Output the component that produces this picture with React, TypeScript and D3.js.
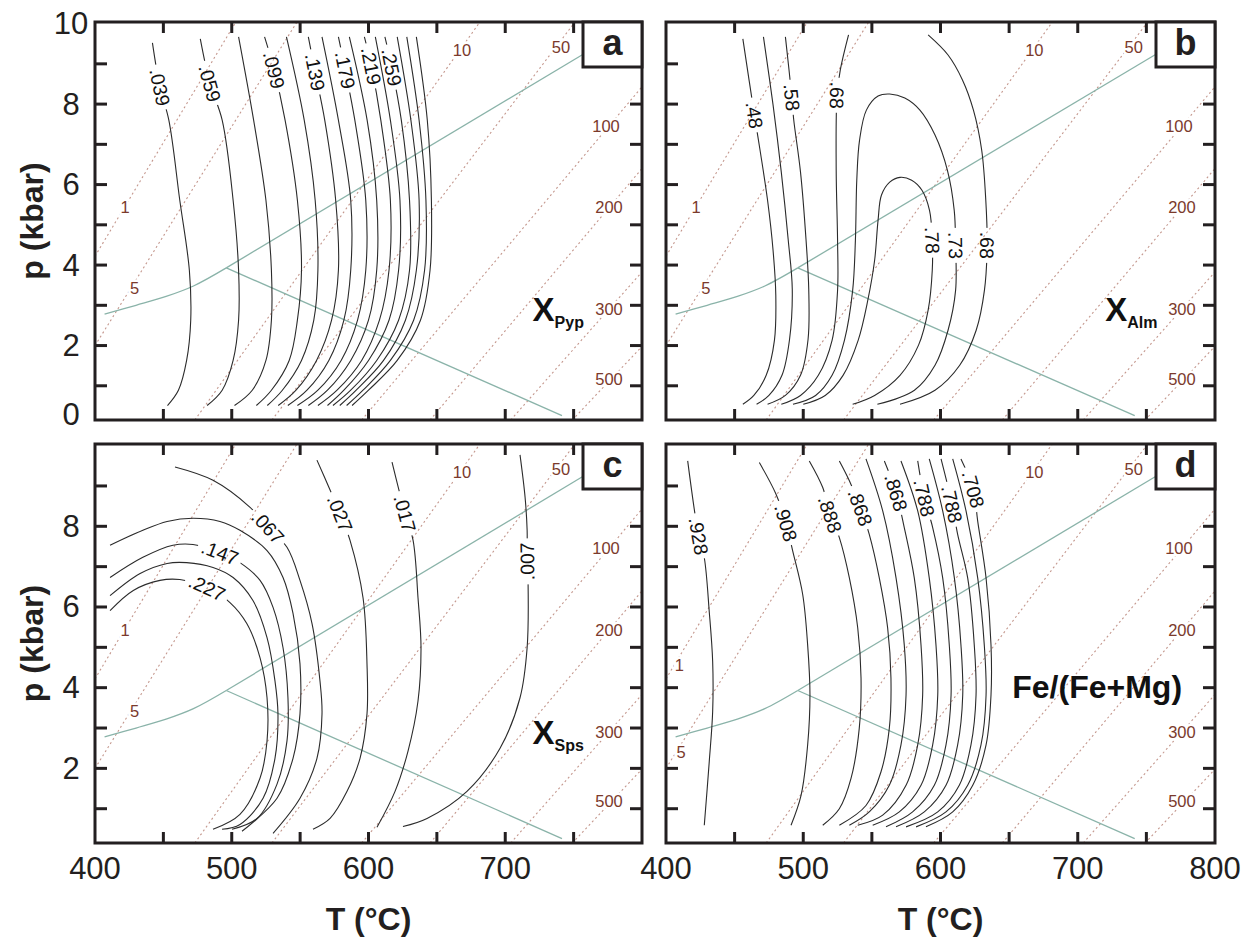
import * as d3 from "d3";

type Pt = [number, number];
// [curve index, vertex index carrying the label, text, read upwards?]
type Lab = [number, number, string, boolean?];

const T_RANGE: Pt = [400, 800];
const P_RANGE: Pt = [0.15, 10.04];
const T_TICKS = [450, 500, 550, 600, 650, 700, 750];
const P_TICKS = [1, 2, 3, 4, 5, 6, 7, 8, 9];
const T_LABELS_C = [400, 500, 600, 700];
const T_LABELS_D = [400, 500, 600, 700, 800];
const P_LABELS_A = [0, 2, 4, 6, 8, 10];
const P_LABELS_C = [2, 4, 6, 8];

// Al2SiO5 phase boundaries (T degC, p kbar)
const kyAnd: Pt[] = [[407, 2.78], [430, 3.0], [452, 3.22], [472, 3.48], [496, 3.93]];
const kySil: Pt[] = [[496, 3.93], [757, 9.24]];
const andSil: Pt[] = [[496, 3.93], [741.5, 0.26]];

// dotted reference lines
const isoNames = ["1", "5", "10", "50", "100", "200", "300", "500"];
const isoLines: Pt[][] = [
  [[400, 4.22], [503, 10.04]],
  [[400, 2.0], [547.7, 10.04]],
  [[473, 0.15], [681.5, 10.04]],
  [[529.4, 0.15], [751, 10.04]],
  [[595, 0.15], [800, 8.43]],
  [[645, 0.15], [800, 6.4]],
  [[704, 0.15], [800, 3.83]],
  [[749, 0.15], [800, 1.98]],
];
const isoLabelAt: Pt[] = [
  [422, 5.44], [429, 3.42], [668.4, 9.34], [740.8, 9.42],
  [773.7, 7.45], [775.9, 5.44], [775.9, 2.9], [775.9, 1.18],
];
const isoLabelAtD: Pt[] = [
  [409.7, 4.57], [411, 2.41], [668.4, 9.34], [740.8, 9.42],
  [773.7, 7.45], [775.9, 5.44], [775.9, 2.9], [775.9, 1.18],
];

// (a) X Pyp
const pypCurves: Pt[][] = [
  [[442, 9.52], [447.5, 8.42], [454, 7.6], [462, 5.61], [469, 3.87], [470, 2.63], [467, 1.63], [461, 0.89], [453, 0.51]],
  [[477, 9.62], [484, 8.52], [493, 7.6], [501, 5.61], [505, 3.87], [505, 2.63], [501, 1.63], [493, 0.89], [482, 0.51]],
  [[505, 9.67], [516, 7.6], [525, 5.61], [529, 3.87], [529, 2.63], [525, 1.63], [515, 0.89], [502, 0.51]],
  [[524, 9.67], [531, 8.85], [539, 7.6], [548, 5.61], [551, 3.87], [548, 2.63], [542, 1.63], [529, 0.89], [518, 0.51]],
  [[540, 9.67], [553, 7.6], [561, 5.61], [563, 3.87], [560, 2.63], [551, 1.63], [537, 0.89], [526, 0.51]],
  [[556, 9.67], [561, 8.8], [568, 7.6], [576, 5.61], [578, 3.87], [573, 2.63], [562, 1.63], [547, 0.89], [534, 0.51]],
  [[566, 9.67], [578, 7.6], [587, 5.61], [587, 3.87], [582, 2.63], [571, 1.63], [555, 0.89], [541, 0.51]],
  [[578, 9.67], [583, 8.85], [590, 7.6], [598, 5.61], [598, 3.87], [592, 2.63], [580, 1.63], [563, 0.89], [548, 0.51]],
  [[586, 9.67], [599, 7.6], [606, 5.61], [606, 3.87], [600, 2.63], [587, 1.63], [570, 0.89], [556, 0.51]],
  [[597, 9.67], [602, 8.95], [609, 7.6], [616, 5.61], [615, 3.87], [608, 2.63], [595, 1.63], [577, 0.89], [563, 0.51]],
  [[605, 9.67], [616, 7.6], [623, 5.61], [622, 3.87], [615, 2.63], [600, 1.63], [582, 0.89], [570, 0.51]],
  [[612, 9.67], [617, 8.92], [624, 7.6], [630, 5.61], [630, 3.87], [622, 2.63], [606, 1.63], [587, 0.89], [574, 0.51]],
  [[621, 9.67], [631, 7.6], [637, 5.61], [635, 3.87], [627, 2.63], [611, 1.63], [591, 0.89], [579, 0.51]],
  [[628, 9.67], [637, 7.6], [642, 5.61], [641, 3.87], [633, 2.63], [616, 1.63], [596, 0.89], [584, 0.51]],
  [[635, 9.67], [643, 7.6], [646, 5.61], [645, 3.87], [638, 2.63], [621, 1.63], [600, 0.89], [588, 0.51]],
];
const pypLabels: Lab[] = [
  [0, 1, ".039"], [1, 1, ".059"], [3, 1, ".099"], [5, 1, ".139"],
  [7, 1, ".179"], [9, 1, ".219"], [11, 1, ".259"],
];

// (b) X Alm
const almCurves: Pt[][] = [
  [[456, 9.62], [464.4, 7.73], [468.5, 6.86], [474, 5.61], [478, 4.37], [480, 3.25], [479, 2.13], [473, 1.26], [464, 0.76], [456, 0.54]],
  [[471, 9.67], [478, 7.98], [484, 6.31], [489, 4.64], [492, 3.4], [490, 2.15], [484.5, 1.26], [475, 0.76], [466, 0.54]],
  [[487, 9.67], [491.7, 8.17], [493, 7.63], [498, 6.31], [502, 4.64], [504, 3.4], [503.5, 2.15], [498, 1.26], [487, 0.76], [474, 0.54]],
  [[533, 9.72], [527, 8.85], [524.6, 8.22], [524, 6.36], [525, 4.62], [525, 3.37], [521, 2.13], [511, 1.26], [498, 0.76], [484, 0.54]],
  [[492.5, 0.54], [509, 0.76], [521, 1.26], [530, 2.13], [536, 3.37], [538, 4.62], [539, 6.11], [541, 7.1], [546, 7.85], [554.5, 8.2], [563, 8.25], [574, 8.15], [585, 7.85], [596, 7.23], [605, 6.36], [610, 5.36], [611, 4.49], [611, 3.37], [605.5, 2.38], [596, 1.51], [581, 0.89], [554, 0.54]],
  [[500, 0.54], [516, 0.76], [529, 1.26], [540, 2.13], [547, 3.12], [552, 4.12], [554.5, 5.11], [557, 5.74], [563, 6.06], [570.5, 6.18], [579, 6.11], [586.5, 5.86], [592, 5.36], [594, 4.62], [594, 3.87], [591, 2.88], [584, 2.01], [570.5, 1.26], [552, 0.76], [536, 0.54]],
  [[591, 9.72], [605.5, 9.22], [616, 8.6], [624, 7.85], [630, 6.86], [633, 5.61], [634, 4.49], [632, 3.37], [626, 2.38], [614, 1.51], [596, 0.89], [570.5, 0.54]],
];
const almLabels: Lab[] = [
  [0, 1, ".48"], [2, 1, ".58"], [3, 2, ".68"], [4, 16, ".73"], [5, 13, ".78"], [6, 6, ".68"],
];

// (c) X Sps
const spsCurves: Pt[][] = [
  [[411, 5.91], [428, 6.41], [447.5, 6.66], [462, 6.68], [482, 6.48], [498.7, 6.11], [511, 5.59], [520.7, 4.74], [525.8, 3.75], [525.8, 2.68], [520.7, 1.76], [506, 0.86], [486.3, 0.49]],
  [[411, 6.28], [433, 6.83], [452.7, 7.08], [467, 7.1], [486.3, 6.98], [501, 6.73], [515.5, 6.16], [525.8, 5.24], [531.6, 4.17], [533.8, 3.35], [531.6, 2.25], [522.9, 1.26], [506, 0.61], [492.9, 0.49]],
  [[411, 6.73], [435, 7.23], [457, 7.53], [471.7, 7.55], [491.4, 7.35], [506, 7.1], [520.7, 6.66], [530.2, 5.99], [537.5, 4.99], [541.1, 3.75], [540.4, 2.68], [533.1, 1.61], [518.5, 0.76], [500.2, 0.49]],
  [[411, 7.53], [435, 7.9], [452.7, 8.12], [471.7, 8.2], [491.4, 8.12], [506, 7.9], [525.8, 7.4], [537.5, 6.73], [544.8, 5.84], [549.9, 4.59], [549.9, 3.35], [544.8, 2.25], [533.1, 1.26], [507.5, 0.44]],
  [[458.5, 9.47], [486.3, 9.14], [513.4, 8.47], [526.5, 7.98], [540.4, 7.48], [549.9, 6.66], [558.7, 5.59], [564.5, 4.17], [566, 3.35], [562.3, 2.25], [549.9, 1.26], [530.2, 0.39]],
  [[562.3, 9.64], [571.9, 8.9], [579.2, 8.32], [586.5, 7.65], [596, 6.23], [598.9, 4.59], [598.9, 3.35], [593.8, 2.25], [584.3, 1.43], [571.9, 0.76], [559.4, 0.49]],
  [[617.2, 9.59], [626.7, 8.32], [632.6, 7.65], [636.2, 6.23], [638.4, 4.99], [636.2, 3.67], [628.9, 2.43], [619.4, 1.43], [606.2, 0.54]],
  [[710.8, 9.77], [714.5, 8.72], [716, 7.9], [716, 7.13], [716.7, 6.58], [716, 4.99], [710.8, 3.75], [696.2, 2.5], [672, 1.43], [642.8, 0.76], [625.2, 0.56]],
];
const spsLabels: Lab[] = [
  [0, 4, ".227"], [2, 4, ".147"], [4, 3, ".067"], [5, 2, ".027"], [6, 1, ".017"], [7, 3, ".007", true],
];

// (d) Fe/(Fe+Mg)
const femCurves: Pt[][] = [
  [[415.8, 9.62], [423.8, 7.76], [427.9, 7.22], [431.5, 5.89], [434, 4.65], [434, 3.41], [431.5, 2.16], [427.9, 0.59]],
  [[468, 9.58], [480.1, 8.8], [487.4, 8.09], [492.3, 7.39], [499.6, 6.31], [503.2, 5.06], [504.9, 3.82], [503.2, 2.58], [498.4, 1.33], [491.1, 0.59]],
  [[504.4, 9.62], [514.2, 8.96], [519.5, 8.3], [526.3, 7.72], [533.6, 6.72], [539.7, 5.48], [542.1, 4.24], [540.8, 2.99], [534.8, 1.75], [526.3, 1.0], [514.2, 0.59]],
  [[526.3, 9.62], [533.6, 9.13], [541.6, 8.47], [548.1, 7.8], [555.4, 6.72], [561.5, 5.48], [563.9, 4.24], [562.7, 2.99], [556.6, 1.91], [545.7, 1.08], [526.3, 0.59]],
  [[545.7, 9.67], [557.9, 8.38], [567.6, 6.72], [573.6, 5.06], [574.9, 3.82], [571.2, 2.58], [562.7, 1.58], [548.1, 0.92], [533.6, 0.59]],
  [[559.1, 9.62], [567.6, 8.84], [573.6, 7.97], [580.9, 6.72], [585.8, 5.06], [587, 3.82], [583.4, 2.58], [574.9, 1.58], [557.9, 0.84], [539.7, 0.59]],
  [[571.2, 9.62], [583.4, 8.38], [591.8, 6.72], [596.7, 5.06], [598, 3.82], [594.3, 2.58], [585.8, 1.58], [570, 0.92], [550.6, 0.59]],
  [[583.4, 9.62], [588.2, 8.71], [594.3, 7.97], [601.6, 6.72], [606.4, 5.06], [607.7, 3.82], [604, 2.58], [595.5, 1.58], [579.7, 0.92], [560.3, 0.55]],
  [[591.8, 9.67], [601.6, 8.38], [610.1, 6.72], [614.9, 5.06], [616.2, 3.82], [612.5, 2.58], [604, 1.58], [588.2, 0.92], [567.6, 0.55]],
  [[600.4, 9.67], [608.4, 8.55], [612.5, 7.8], [619.8, 6.72], [624.6, 5.06], [625.9, 3.82], [622.2, 2.58], [613.7, 1.58], [598, 0.92], [574.9, 0.55]],
  [[608.9, 9.67], [618.6, 8.38], [627.1, 6.72], [631.9, 5.06], [633.2, 3.82], [629.5, 2.58], [619.8, 1.58], [604, 0.92], [582.2, 0.55]],
  [[614.9, 9.67], [623.9, 8.92], [627.1, 8.13], [633.2, 6.72], [636.8, 5.06], [636.8, 3.82], [633.2, 2.58], [623.5, 1.58], [608.9, 0.92], [589.4, 0.55]],
];
const femLabels: Lab[] = [
  [0, 1, ".928"], [1, 2, ".908"], [2, 2, ".888"], [3, 2, ".868"],
  [5, 1, ".868"], [7, 1, ".788"], [9, 1, ".788"], [11, 1, ".708"],
];

const FONT = "'Liberation Sans', Arial, Helvetica, sans-serif";
const INK = "#231f20";
const CONTOUR = "#2b2b2b";
const DOT = "#c4978d";
const DOT_TEXT = "#7b3a2c";
const GREEN = "#8ab3a9";

const textWidth = (s: string, fs: number) =>
  s.split("").reduce((w, ch) => w + (ch === "." ? 0.278 : 0.556), 0) * fs;

type PanelProps = {
  id: string;
  left: number;
  right: number;
  top: number;
  bottom: number;
  curves: Pt[][];
  labels: Lab[];
  letter: string;
  isoAt: Pt[];
  yLabels: number[];
  xLabels: number[];
  note: (x: d3.ScaleLinear<number, number>, y: d3.ScaleLinear<number, number>) => JSX.Element;
};

function Panel(props: PanelProps) {
  const { id, left, right, top, bottom, curves, labels, letter, isoAt, yLabels, xLabels, note } = props;
  const x = d3.scaleLinear().domain(T_RANGE).range([left, right]);
  const y = d3.scaleLinear().domain(P_RANGE).range([bottom, top]);
  const line = d3
    .line<Pt>()
    .x((d) => x(d[0]))
    .y((d) => y(d[1]));
  const smooth = d3
    .line<Pt>()
    .x((d) => x(d[0]))
    .y((d) => y(d[1]))
    .curve(d3.curveCatmullRom.alpha(0.5));

  const labFs = 19.5;
  const placed = labels.map(([ci, vi, txt, flip]) => {
    const pts = curves[ci];
    const a = pts[vi - 1];
    const b = pts[vi + 1];
    const c = pts[vi];
    let ang = (Math.atan2(y(b[1]) - y(a[1]), x(b[0]) - x(a[0])) * 180) / Math.PI;
    if (flip) ang += 180;
    return { ci, txt, sx: x(c[0]), sy: y(c[1]), ang, w: textWidth(txt, labFs) + 8 };
  });

  const tick = 11;

  return (
    <g>
      <defs>
        <clipPath id={`clip-${id}`}>
          <rect x={left} y={top} width={right - left} height={bottom - top} />
        </clipPath>
        {placed.map((p) => (
          <mask id={`m-${id}-${p.ci}`} key={p.ci} maskUnits="userSpaceOnUse" x={0} y={0} width={1253} height={938}>
            <rect x={0} y={0} width={1253} height={938} fill="white" />
            <rect
              x={-p.w / 2}
              y={-8}
              width={p.w}
              height={16}
              fill="black"
              transform={`translate(${p.sx},${p.sy}) rotate(${p.ang})`}
            />
          </mask>
        ))}
      </defs>

      <g clipPath={`url(#clip-${id})`}>
        {/* dotted reference lines */}
        {isoLines.map((l, i) => (
          <path key={i} d={line(l) ?? ""} fill="none" stroke={DOT} strokeWidth={1.1} strokeDasharray="2 2.8" />
        ))}
        {/* Al2SiO5 boundaries */}
        {[kyAnd, kySil, andSil].map((l, i) => (
          <path key={i} d={smooth(l) ?? ""} fill="none" stroke={GREEN} strokeWidth={1.3} />
        ))}
        {isoNames.map((n, i) => (
          <text
            key={n}
            x={x(isoAt[i][0])}
            y={y(isoAt[i][1])}
            textAnchor="middle"
            dominantBaseline="central"
            fontFamily={FONT}
            fontSize={16.5}
            fill={DOT_TEXT}
            stroke="white"
            strokeWidth={5}
            paintOrder="stroke"
          >
            {n}
          </text>
        ))}
        {/* contours */}
        {curves.map((c, i) => {
          const lab = placed.find((p) => p.ci === i);
          return (
            <path
              key={i}
              d={smooth(c) ?? ""}
              fill="none"
              stroke={CONTOUR}
              strokeWidth={1.1}
              mask={lab ? `url(#m-${id}-${i})` : undefined}
            />
          );
        })}
        {placed.map((p, i) => (
          <text
            key={i}
            transform={`translate(${p.sx},${p.sy}) rotate(${p.ang})`}
            textAnchor="middle"
            dominantBaseline="central"
            fontFamily={FONT}
            fontSize={labFs}
            fill="#111"
          >
            {p.txt}
          </text>
        ))}
      </g>

      {note(x, y)}

      {/* ticks */}
      {T_TICKS.map((t) => (
        <g key={`t${t}`} stroke={INK} strokeWidth={3}>
          <line x1={x(t)} x2={x(t)} y1={top} y2={top + tick} />
          <line x1={x(t)} x2={x(t)} y1={bottom} y2={bottom - tick} />
        </g>
      ))}
      {P_TICKS.map((p) => (
        <g key={`p${p}`} stroke={INK} strokeWidth={3}>
          <line x1={left} x2={left + tick + 1} y1={y(p)} y2={y(p)} />
          <line x1={right} x2={right - tick - 1} y1={y(p)} y2={y(p)} />
        </g>
      ))}
      <rect x={left} y={top} width={right - left} height={bottom - top} fill="none" stroke={INK} strokeWidth={3} />

      {/* panel letter box */}
      <rect x={right - 59} y={top} width={59} height={45} fill="white" stroke={INK} strokeWidth={3} />
      <text
        x={right - 29.5}
        y={top + 33}
        textAnchor="middle"
        fontFamily={FONT}
        fontWeight="bold"
        fontSize={36}
        fill={INK}
      >
        {letter}
      </text>

      {/* tick labels */}
      {yLabels.map((v) => (
        <text
          key={`yl${v}`}
          x={left - 24}
          y={v === 0 ? y(P_RANGE[0]) - 6 : y(v)}
          textAnchor="middle"
          dominantBaseline="central"
          fontFamily={FONT}
          fontSize={31}
          fill={INK}
        >
          {v}
        </text>
      ))}
      {xLabels.map((v) => (
        <text
          key={`xl${v}`}
          x={x(v)}
          y={bottom + 36}
          textAnchor="middle"
          fontFamily={FONT}
          fontSize={31}
          fill={INK}
        >
          {v}
        </text>
      ))}
    </g>
  );
}

const subNote =
  (main: string, sub: string) =>
  (x: d3.ScaleLinear<number, number>, y: d3.ScaleLinear<number, number>) =>
    (
      <text x={x(720)} y={y(2.6)} fontFamily={FONT} fontWeight="bold" fontSize={33} fill="#111">
        {main}
        <tspan fontSize={16} dy={7}>
          {sub}
        </tspan>
      </text>
    );

const femNote = (x: d3.ScaleLinear<number, number>, y: d3.ScaleLinear<number, number>) => (
  <text x={x(776)} y={y(3.75)} textAnchor="end" fontFamily={FONT} fontWeight="bold" fontSize={32} fill="#111">
    Fe/(Fe+Mg)
  </text>
);

export default function App() {
  const L1 = 95, R1 = 642, L2 = 666, R2 = 1215;
  const T1 = 22, B1 = 420, T2 = 444, B2 = 843;
  return (
    <svg
      width={1253}
      height={938}
      style={{ position: "absolute", left: 0, top: 0, background: "white" }}
    >
      <rect x={0} y={0} width={1253} height={938} fill="white" />
      <Panel
        id="a" left={L1} right={R1} top={T1} bottom={B1}
        curves={pypCurves} labels={pypLabels} letter="a" isoAt={isoLabelAt}
        yLabels={P_LABELS_A} xLabels={[]} note={subNote("X", "Pyp")}
      />
      <Panel
        id="b" left={L2} right={R2} top={T1} bottom={B1}
        curves={almCurves} labels={almLabels} letter="b" isoAt={isoLabelAt}
        yLabels={[]} xLabels={[]} note={subNote("X", "Alm")}
      />
      <Panel
        id="c" left={L1} right={R1} top={T2} bottom={B2}
        curves={spsCurves} labels={spsLabels} letter="c" isoAt={isoLabelAt}
        yLabels={P_LABELS_C} xLabels={T_LABELS_C} note={subNote("X", "Sps")}
      />
      <Panel
        id="d" left={L2} right={R2} top={T2} bottom={B2}
        curves={femCurves} labels={femLabels} letter="d" isoAt={isoLabelAtD}
        yLabels={[]} xLabels={T_LABELS_D} note={femNote}
      />

      {[(T1 + B1) / 2, (T2 + B2) / 2].map((cy) => (
        <text
          key={cy}
          transform={`translate(32,${cy}) rotate(-90)`}
          textAnchor="middle"
          dominantBaseline="central"
          fontFamily={FONT}
          fontWeight="bold"
          fontSize={32}
          fill={INK}
        >
          p (kbar)
        </text>
      ))}
      {[(L1 + R1) / 2, (L2 + R2) / 2].map((cx) => (
        <text
          key={cx}
          x={cx}
          y={930}
          textAnchor="middle"
          fontFamily={FONT}
          fontWeight="bold"
          fontSize={32}
          fill={INK}
        >
          T (°C)
        </text>
      ))}
    </svg>
  );
}
